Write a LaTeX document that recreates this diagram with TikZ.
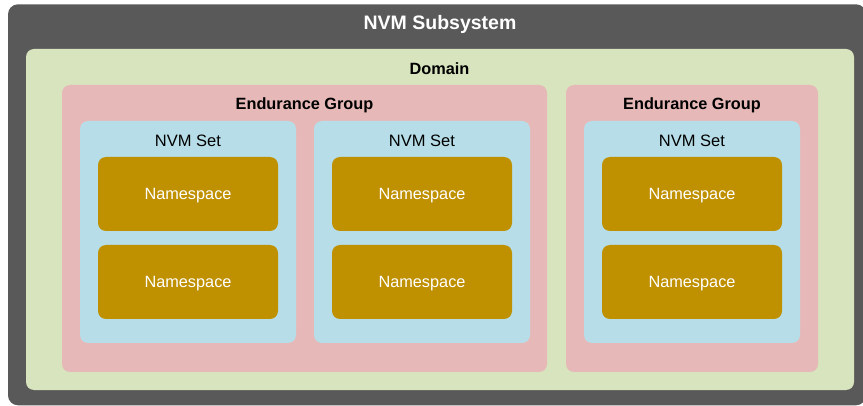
\documentclass[tikz,border=0pt]{standalone}
\usepackage{fontspec}
\setmainfont{Liberation Sans}
\definecolor{subsysgray}{HTML}{595959}
\definecolor{domaingreen}{HTML}{D7E4BD}
\definecolor{egpink}{HTML}{E6B9B8}
\definecolor{setblue}{HTML}{B7DEE8}
\definecolor{nsgold}{HTML}{BF9000}
\begin{document}
\begin{tikzpicture}[x=1pt,y=-1pt,
  panel/.style={draw=none, rounded corners=8pt, inner sep=0pt, outer sep=0pt},
  subsys/.style={panel, fill=subsysgray, rounded corners=10pt, minimum width=858pt, minimum height=401pt},
  domainbox/.style={panel, fill=domaingreen, minimum width=828pt, minimum height=341pt},
  egbox/.style={panel, fill=egpink, minimum height=287pt},
  setbox/.style={panel, fill=setblue, minimum width=216pt, minimum height=222pt},
  nsbox/.style={panel, fill=nsgold, minimum width=180pt, minimum height=74pt,
    text height=11.7pt, text depth=0pt,
    text=white, font=\fontsize{16.3}{18}\selectfont},
  titlelabel/.style={anchor=base, inner sep=0pt, text=white, font=\fontsize{19.5}{22}\selectfont\bfseries},
  boldlabel/.style={anchor=base, inner sep=0pt, text=black, font=\fontsize{16.3}{18}\selectfont\bfseries},
  setlabel/.style={anchor=base, inner sep=0pt, text=black, font=\fontsize{16.5}{18}\selectfont},
]
\useasboundingbox (0,0) rectangle (863,406);
\clip (0,0) rectangle (863,406);

% NVM subsystem and domain
\node[subsys] (subsystem) at (437,204.8) {};
\node[titlelabel] (subsystemlabel) at (440,30) {NVM Subsystem};
\node[domainbox] (domain) at (440,219.5) {};
\node[boldlabel] (domainlabel) at (439.5,75) {Domain};

% endurance groups
\node[egbox, minimum width=485pt] (eg1) at (304.5,228.5) {};
\node[boldlabel] (eg1label) at (304.5,110) {Endurance Group};
\node[egbox, minimum width=252pt] (eg2) at (692,228.5) {};
\node[boldlabel] (eg2label) at (692,110) {Endurance Group};

% NVM sets, each holding two namespaces
\foreach \name/\cx in {set1/188, set2/422, set3/692} {
  \node[setbox] (\name) at (\cx,232) {};
  \node[setlabel] (\name label) at (\cx,147) {NVM Set};
  \node[nsbox] (\name ns1) at (\cx,194) {Namespace};
  \node[nsbox] (\name ns2) at (\cx,282) {Namespace};
}
\end{tikzpicture}
\end{document}
